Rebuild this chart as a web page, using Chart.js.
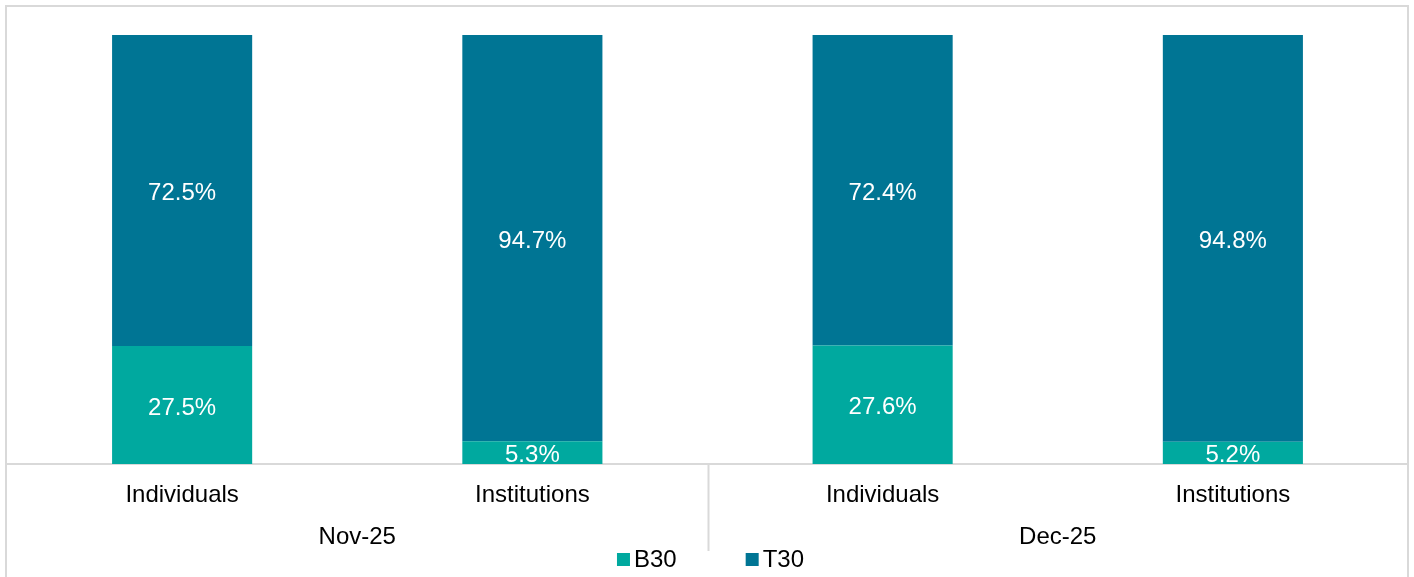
<!DOCTYPE html>
<html>
<head>
<meta charset="utf-8">
<script src="https://cdn.jsdelivr.net/npm/chart.js@4.4.1/dist/chart.umd.min.js"></script>
<style>
  body { margin: 0; background: #fff; }
  canvas { display: block; }
</style>
</head>
<body>
<canvas id="chart" width="1414" height="577"></canvas>
<script>
// categories and share of each group (percent)
const categories = ["Individuals", "Institutions", "Individuals", "Institutions"];
const months = ["Nov-25", "Dec-25"];
const b30 = [27.5, 5.3, 27.6, 5.2];
const t30 = [72.5, 94.7, 72.4, 94.8];

const FONT = "'Liberation Sans', Arial, sans-serif";
const GRID = "#d9d9d9";

Chart.defaults.font.family = FONT;

// outer frame + divider between the two months
const framePlugin = {
  id: "frame",
  beforeDraw(chart) {
    const ctx = chart.ctx;
    ctx.save();
    ctx.fillStyle = "#fff";
    ctx.fillRect(0, 0, chart.width, chart.height);
    ctx.strokeStyle = GRID;
    ctx.lineWidth = 2;
    ctx.strokeRect(6, 6, 1402, 700);
    const a = chart.chartArea;
    const mid = Math.round((a.left + a.right) / 2);
    ctx.beginPath();
    ctx.moveTo(mid + 0.5, a.bottom);
    ctx.lineTo(mid + 0.5, a.bottom + 87);
    ctx.stroke();
    ctx.restore();
  }
};

// percent labels inside each segment
const valueLabels = {
  id: "valueLabels",
  afterDatasetsDraw(chart) {
    const ctx = chart.ctx;
    ctx.save();
    ctx.fillStyle = "#fff";
    ctx.font = "24px " + FONT;
    ctx.textAlign = "center";
    ctx.textBaseline = "middle";
    chart.data.datasets.forEach((ds, i) => {
      chart.getDatasetMeta(i).data.forEach((bar, j) => {
        const y = (bar.y + bar.base) / 2;
        ctx.fillText(ds.data[j].toFixed(1) + "%", bar.x, y + 3);
      });
    });
    ctx.restore();
  }
};

// legend row under the month labels
const bottomLegend = {
  id: "bottomLegend",
  afterDraw(chart) {
    const ctx = chart.ctx;
    const a = chart.chartArea;
    ctx.save();
    ctx.font = "24px " + FONT;
    ctx.textBaseline = "middle";
    ctx.textAlign = "left";
    const box = 13, gapText = 4, gapItem = 69;
    const items = chart.data.datasets.map(ds => ({
      label: ds.label, color: ds.backgroundColor,
      w: box + gapText + ctx.measureText(ds.label).width
    }));
    const total = items.reduce((s, it) => s + it.w, 0) + gapItem * (items.length - 1);
    let x = (a.left + a.right) / 2 - total / 2 + 3;
    const y = 560;
    items.forEach(it => {
      ctx.fillStyle = it.color;
      ctx.fillRect(x, y - 7, box, box);
      ctx.fillStyle = "#000";
      ctx.fillText(it.label, x + box + gapText, y);
      x += it.w + gapItem;
    });
    ctx.restore();
  }
};

new Chart(document.getElementById("chart"), {
  type: "bar",
  data: {
    labels: categories,
    datasets: [
      { label: "B30", data: b30, backgroundColor: "#00a99f", borderWidth: 0 },
      { label: "T30", data: t30, backgroundColor: "#007594", borderWidth: 0 }
    ]
  },
  options: {
    responsive: false,
    animation: false,
    layout: { padding: { top: 35, left: 7, right: 6, bottom: 21 } },
    datasets: { bar: { barPercentage: 0.4, categoryPercentage: 1 } },
    plugins: { legend: { display: false }, tooltip: { enabled: false } },
    scales: {
      x: {
        stacked: true,
        weight: 0,
        grid: { display: false, drawTicks: false },
        border: { display: true, color: GRID, width: 2 },
        ticks: { color: "#000", font: { size: 24 }, padding: 17, maxRotation: 0 },
        afterFit(s) { s.height = 50; }
      },
      x2: {
        type: "category",
        position: "bottom",
        labels: months,
        offset: true,
        weight: 1,
        grid: { display: false, drawTicks: false },
        border: { display: false },
        ticks: { color: "#000", font: { size: 24 }, padding: 9, maxRotation: 0 },
        afterFit(s) { s.height = 42; }
      },
      y: {
        stacked: true,
        display: false,
        min: 0,
        max: 100
      }
    }
  },
  plugins: [framePlugin, valueLabels, bottomLegend]
});
</script>
</body>
</html>
